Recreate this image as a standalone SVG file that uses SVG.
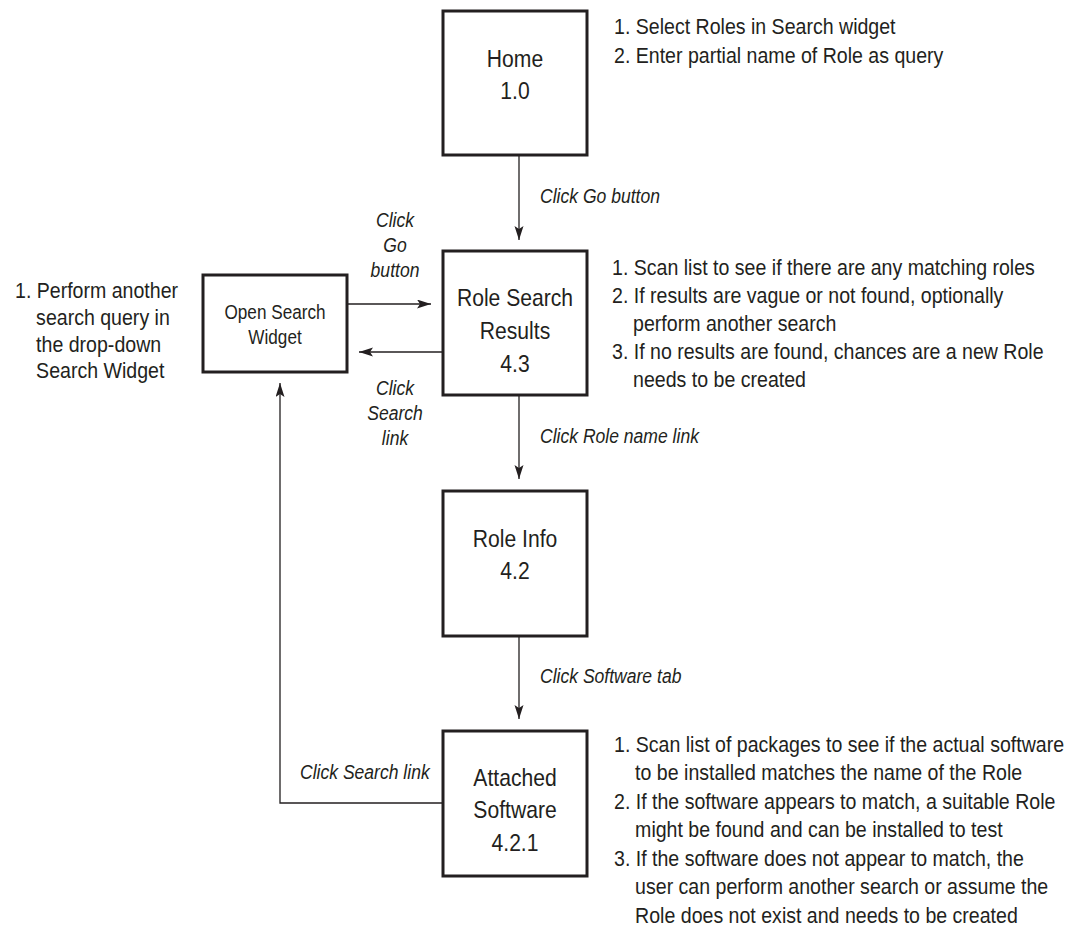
<svg xmlns="http://www.w3.org/2000/svg" width="1071" height="938" viewBox="0 0 1071 938">
<style>
  .box { fill: #ffffff; stroke: #231f20; stroke-width: 3; }
  .conn { fill: none; stroke: #231f20; stroke-width: 1.3; }
  .lbl { font-family: "Liberation Sans", Arial, sans-serif; font-size: 24px; fill: #231f20; text-anchor: middle; }
  .lbls { font-family: "Liberation Sans", Arial, sans-serif; font-size: 19.5px; fill: #231f20; text-anchor: middle; }
  .ann { font-family: "Liberation Sans", Arial, sans-serif; font-size: 21.5px; fill: #231f20; }
  .it { font-family: "Liberation Sans", Arial, sans-serif; font-size: 19.5px; font-style: italic; fill: #231f20; }
  .itc { font-family: "Liberation Sans", Arial, sans-serif; font-size: 19.5px; font-style: italic; fill: #231f20; text-anchor: middle; }
</style>
<defs>
  <marker id="ah" markerUnits="userSpaceOnUse" markerWidth="15" markerHeight="10" refX="14" refY="4.5" orient="auto">
    <path d="M0,0 L14,4.5 L0,9 L3,4.5 z" fill="#231f20"/>
  </marker>
</defs>
<rect width="1071" height="938" fill="#ffffff"/>

<g id="connectors">
  <line class="conn" x1="519" y1="155" x2="519" y2="240" marker-end="url(#ah)"/>
  <line class="conn" x1="347" y1="304" x2="431" y2="304" marker-end="url(#ah)"/>
  <line class="conn" x1="443" y1="352" x2="359" y2="352" marker-end="url(#ah)"/>
  <line class="conn" x1="519" y1="395" x2="519" y2="479" marker-end="url(#ah)"/>
  <line class="conn" x1="519" y1="636" x2="519" y2="719" marker-end="url(#ah)"/>
  <polyline class="conn" points="443,803 280,803 280,383" marker-end="url(#ah)"/>
  <g transform="translate(540,0) scale(0.9,1)"><text class="it" x="0" y="203">Click Go button</text></g>
  <g transform="translate(395,0) scale(0.9,1)">
    <text class="itc" x="0" y="227">Click</text>
    <text class="itc" x="0" y="252">Go</text>
    <text class="itc" x="0" y="277">button</text>
    <text class="itc" x="0" y="395">Click</text>
    <text class="itc" x="0" y="420">Search</text>
    <text class="itc" x="0" y="445">link</text>
  </g>
  <g transform="translate(540,0) scale(0.9,1)"><text class="it" x="0" y="443">Click Role name link</text></g>
  <g transform="translate(540,0) scale(0.9,1)"><text class="it" x="0" y="683">Click Software tab</text></g>
  <g transform="translate(300,0) scale(0.9,1)"><text class="it" x="0" y="779">Click Search link</text></g>
</g>

<g id="node-home">
  <rect class="box" x="443" y="11" width="144" height="144"/>
  <g transform="translate(515,0) scale(0.88,1)">
    <text class="lbl" x="0" y="67">Home</text>
    <text class="lbl" x="0" y="99">1.0</text>
  </g>
</g>

<g id="node-role-search-results">
  <rect class="box" x="443" y="251" width="144" height="144"/>
  <g transform="translate(515,0) scale(0.88,1)">
    <text class="lbl" x="0" y="306">Role Search</text>
    <text class="lbl" x="0" y="339">Results</text>
    <text class="lbl" x="0" y="372">4.3</text>
  </g>
</g>

<g id="node-open-search-widget">
  <rect class="box" x="203" y="275" width="144" height="97"/>
  <g transform="translate(275,0) scale(0.88,1)">
    <text class="lbls" x="0" y="319">Open Search</text>
    <text class="lbls" x="0" y="344">Widget</text>
  </g>
</g>

<g id="node-role-info">
  <rect class="box" x="443" y="491" width="144" height="145"/>
  <g transform="translate(515,0) scale(0.88,1)">
    <text class="lbl" x="0" y="547">Role Info</text>
    <text class="lbl" x="0" y="579">4.2</text>
  </g>
</g>

<g id="node-attached-software">
  <rect class="box" x="443" y="731" width="144" height="145"/>
  <g transform="translate(515,0) scale(0.88,1)">
    <text class="lbl" x="0" y="786">Attached</text>
    <text class="lbl" x="0" y="818">Software</text>
    <text class="lbl" x="0" y="851">4.2.1</text>
  </g>
</g>

<g id="note-home" transform="translate(614,0) scale(0.91,1)">
  <text class="ann" x="0" y="34">1. Select Roles in Search widget</text>
  <text class="ann" x="0" y="63">2. Enter partial name of Role as query</text>
</g>

<g id="note-widget" transform="translate(15,0) scale(0.91,1)">
  <text class="ann" x="0" y="298">1. Perform another</text>
  <text class="ann" x="23.2" y="325">search query in</text>
  <text class="ann" x="23.2" y="352">the drop-down</text>
  <text class="ann" x="23.2" y="378">Search Widget</text>
</g>

<g id="note-results" transform="translate(612,0) scale(0.91,1)">
  <text class="ann" x="0" y="275">1. Scan list to see if there are any matching roles</text>
  <text class="ann" x="0" y="303">2. If results are vague or not found, optionally</text>
  <text class="ann" x="23.2" y="331">perform another search</text>
  <text class="ann" x="0" y="359">3. If no results are found, chances are a new Role</text>
  <text class="ann" x="23.2" y="387">needs to be created</text>
</g>

<g id="note-software" transform="translate(614,0) scale(0.91,1)">
  <text class="ann" x="0" y="752">1. Scan list of packages to see if the actual software</text>
  <text class="ann" x="23.2" y="780.5">to be installed matches the name of the Role</text>
  <text class="ann" x="0" y="809">2. If the software appears to match, a suitable Role</text>
  <text class="ann" x="23.2" y="837.5">might be found and can be installed to test</text>
  <text class="ann" x="0" y="866">3. If the software does not appear to match, the</text>
  <text class="ann" x="23.2" y="894.5">user can perform another search or assume the</text>
  <text class="ann" x="23.2" y="923">Role does not exist and needs to be created</text>
</g>
</svg>
